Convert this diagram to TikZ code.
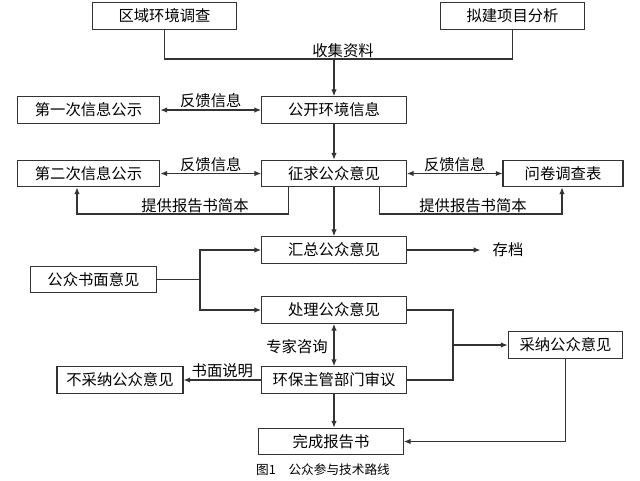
\documentclass[tikz,border=0pt]{standalone}
\usepackage{fontspec}
\setmainfont{Noto Sans CJK SC}
\usetikzlibrary{arrows.meta}

\begin{document}
\begin{tikzpicture}[x=0.75pt,y=-0.75pt,
        box/.style={draw=black!80, line width=0.8pt, minimum width=108.5pt, minimum height=20pt, inner sep=0pt, font=\fontsize{11.5}{13}\selectfont},
        lbl/.style={inner sep=1pt, font=\fontsize{11.5}{13}\selectfont},
        line/.style={draw=black!80, line width=0.8pt},
        arr/.style={line, -{Latex[length=5pt,width=4pt]}},
        darr/.style={line, {Latex[length=5pt,width=4pt]}-{Latex[length=5pt,width=4pt]}}]
        \useasboundingbox (0,0) rectangle (640,480);

        % Draw the boxes
            \node[box] (qy) at (164.5,16) {区域环境调查};
            \node[box] (nj) at (512.5,16) {拟建项目分析};
            \node[box, minimum width=107pt] (d1) at (88.5,110) {第一次信息公示};
            \node[box] (gk) at (334,110) {公开环境信息};
            \node[box, minimum width=107pt] (d2) at (88.5,173.5) {第二次信息公示};
            \node[box] (zq) at (334,173.5) {征求公众意见};
            \node[box, minimum width=90pt] (wj) at (563,173.5) {问卷调查表};
            \node[box] (hz) at (334,250) {汇总公众意见};
            \node[lbl, inner xsep=9pt] (cd) at (508,250) {存档};
            \node[box, minimum width=94pt] (gs) at (93.5,279.5) {公众书面意见};
            \node[box] (cl) at (334,310) {处理公众意见};
            \node[box] (hb) at (334,380) {环保主管部门审议};
            \node[box, minimum width=94.5pt] (bc) at (120,380) {不采纳公众意见};
            \node[box, minimum width=86pt] (cn) at (565.5,345) {采纳公众意见};
            \node[box] (wc) at (331,441.5) {完成报告书};

        % Draw the collecting lines
            \coordinate (sj) at (334,59);
            \draw[line] (qy.south) |- (sj) -| (nj.south);
            \node[lbl, above] (sz) at (343,59) {收集资料};
            \draw[arr] (sj) -- (gk.north);

        % Draw the feedback arrows
            \draw[darr] (d1) -- (gk) node[lbl, midway, above] (fk1) {反馈信息};
            \draw[darr] (d2) -- (zq) node[lbl, midway, above] (fk2) {反馈信息};
            \draw[darr] (zq) -- (wj) node[lbl, midway, above] (fk3) {反馈信息};
            \draw[arr] (gk) -- (zq);
            \draw[arr] (zq) -- (hz);

        % Draw the report lines
            \coordinate (tl) at (77,214);
            \coordinate (tr) at (562,214);
            \draw[arr] ([xshift=-34pt]zq.south) |- (tl) -- (tl |- d2.south);
            \draw[arr] ([xshift=34pt]zq.south) |- (tr) -- (tr |- wj.south);
            \node[lbl, above] (tg1) at (195,214) {提供报告书简本};
            \node[lbl, above] (tg2) at (473,214) {提供报告书简本};

        % Draw the written opinions
            \draw[arr] (hz) -- (cd);
            \coordinate (fz) at (200,279.5);
            \draw[line] (gs) -- (fz);
            \draw[arr] (fz) |- (hz.west);
            \draw[arr] (fz) |- (cl.west);

        % Draw the review
            \draw[darr] (cl) -- (hb);
            \node[lbl] (zj) at (297,347) {专家咨询};
            \draw[arr] (hb) -- (bc) node[lbl, midway, above] (sm) {书面说明};
            \coordinate (cj) at (453,345);
            \draw[line] (cl.east) -| (cj) |- (hb.east);
            \draw[arr] (cj) -- (cn);
            \draw[arr] (hb.south) -- (hb.south |- wc.north);
            \draw[arr] (cn.south) |- (wc.east);

        % Draw the caption
            \node[font=\fontsize{9.5}{11}\selectfont] (tu) at (323,470) {图1\quad 公众参与技术路线};
    \end{tikzpicture}
\end{document}
